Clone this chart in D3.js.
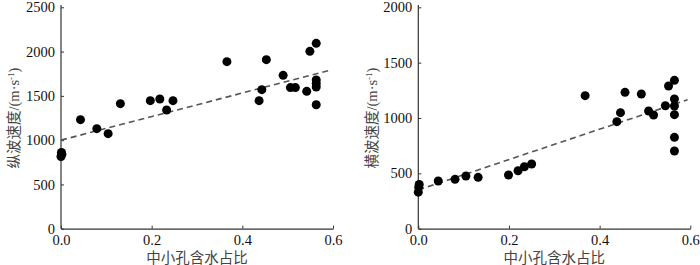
<!DOCTYPE html>
<html>
<head>
<meta charset="utf-8">
<script src="https://cdn.jsdelivr.net/npm/d3@7"></script>
<style>
  body { margin: 0; background: #fff; }
  svg { display: block; }
</style>
</head>
<body>
<svg id="chart" width="700" height="265"></svg>
<script>
// Dữ liệu: tỷ lệ nước trong lỗ rỗng nhỏ-trung bình và vận tốc sóng
const pX = [0.000, 0.001, 0.002, 0.043, 0.079, 0.104, 0.131, 0.197, 0.218, 0.233, 0.247,
            0.366, 0.437, 0.443, 0.453, 0.490, 0.506, 0.517, 0.542, 0.549,
            0.563, 0.563, 0.563, 0.563, 0.563];
const pV = [815, 860, 840, 1231, 1130, 1073, 1412, 1446, 1465, 1340, 1446,
            1886, 1446, 1570, 1909, 1732, 1593, 1593, 1551, 2003,
            2093, 1680, 1640, 1600, 1400];

const sX = [0.000, 0.001, 0.002, 0.044, 0.081, 0.105, 0.132, 0.199, 0.220, 0.234, 0.250,
            0.368, 0.438, 0.446, 0.456, 0.492, 0.508, 0.519, 0.545, 0.552,
            0.565, 0.565, 0.565, 0.565, 0.565, 0.565];
const sV = [330, 375, 400, 431, 446, 476, 464, 485, 524, 560, 584,
            1202, 967, 1048, 1232, 1217, 1063, 1027, 1111, 1289,
            1340, 1172, 1108, 1030, 825, 702];

// Đường hồi quy: [x0, y0, x1, y1]
const pFit = [0, 1000, 0.59, 1785];
const sFit = [0, 350, 0.594, 1165];

const xTicks = [0, 0.2, 0.4, 0.6];
const pTicks = [0, 500, 1000, 1500, 2000, 2500];
const sTicks = [0, 500, 1000, 1500, 2000];

const xLabel = "中小孔含水占比";

const svg = d3.select("#chart");

function drawPanel(opt) {
  const g = svg.append("g");

  const x = d3.scaleLinear().domain([0, 0.6]).range([opt.left, opt.left + 272]);
  const y = d3.scaleLinear().domain([0, opt.yMax]).range([228.7, 7.3]);

  // Trục X (font mặc định là kiểu Times)
  const ax = g.append("g")
    .attr("transform", "translate(0,228.7)")
    .call(d3.axisBottom(x).tickValues(xTicks).tickFormat(d3.format(".1f"))
      .tickSizeInner(-3).tickSizeOuter(0).tickPadding(6));
  ax.attr("font-family", null).attr("font-size", 14.5);
  ax.select(".domain").attr("stroke", "#333").attr("stroke-width", 1.2);
  ax.selectAll(".tick line").attr("stroke", "#333");
  ax.selectAll("text").attr("fill", "#111");

  // Trục Y
  const ay = g.append("g")
    .attr("transform", `translate(${opt.left},0)`)
    .call(d3.axisLeft(y).tickValues(opt.ticks).tickFormat(d3.format("d"))
      .tickSizeInner(-3).tickSizeOuter(0).tickPadding(6));
  ay.attr("font-family", null).attr("font-size", 14.5);
  ay.select(".domain").attr("stroke", "#333").attr("stroke-width", 1.2)
    .attr("d", `M0,${y(0)}V5`);
  ay.selectAll(".tick line").attr("stroke", "#333");
  ay.selectAll("text").attr("fill", "#111");

  // Đường xu hướng
  g.append("line")
    .attr("x1", x(opt.fit[0])).attr("y1", y(opt.fit[1]))
    .attr("x2", x(opt.fit[2])).attr("y2", y(opt.fit[3]))
    .attr("stroke", "#555")
    .attr("stroke-width", 1.6)
    .attr("stroke-dasharray", "6,4");

  // Điểm
  g.selectAll("circle")
    .data(opt.xs.map((v, i) => [v, opt.ys[i]]))
    .enter().append("circle")
      .attr("cx", d => x(d[0]))
      .attr("cy", d => y(d[1]))
      .attr("r", 4.5)
      .attr("fill", "#000");

  // Nhãn trục X
  g.append("text")
    .attr("x", opt.left + 136)
    .attr("y", 262.5)
    .attr("text-anchor", "middle")
    .attr("font-family", "'Noto Sans CJK SC', sans-serif")
    .attr("font-size", 14.5)
    .attr("fill", "#444")
    .text(xLabel);

  // Nhãn trục Y
  const t = g.append("text")
    .attr("transform", `translate(${opt.labelX},118) rotate(-90)`)
    .attr("text-anchor", "middle")
    .attr("dy", "0.35em")
    .attr("font-size", 14.5)
    .attr("fill", "#444");
  t.append("tspan").attr("font-family", "'Noto Sans CJK SC', sans-serif").text(opt.yLabel);
  t.append("tspan").text("/(m·s");
  t.append("tspan").attr("dy", "-5").attr("font-size", 9).text("-1");
  t.append("tspan").attr("dy", "5").text(")");
}

drawPanel({ left: 61, yMax: 2500, ticks: pTicks, xs: pX, ys: pV, fit: pFit,
            yLabel: "纵波速度", labelX: 14 });
drawPanel({ left: 418.3, yMax: 2000, ticks: sTicks, xs: sX, ys: sV, fit: sFit,
            yLabel: "横波速度", labelX: 372 });
</script>
</body>
</html>
